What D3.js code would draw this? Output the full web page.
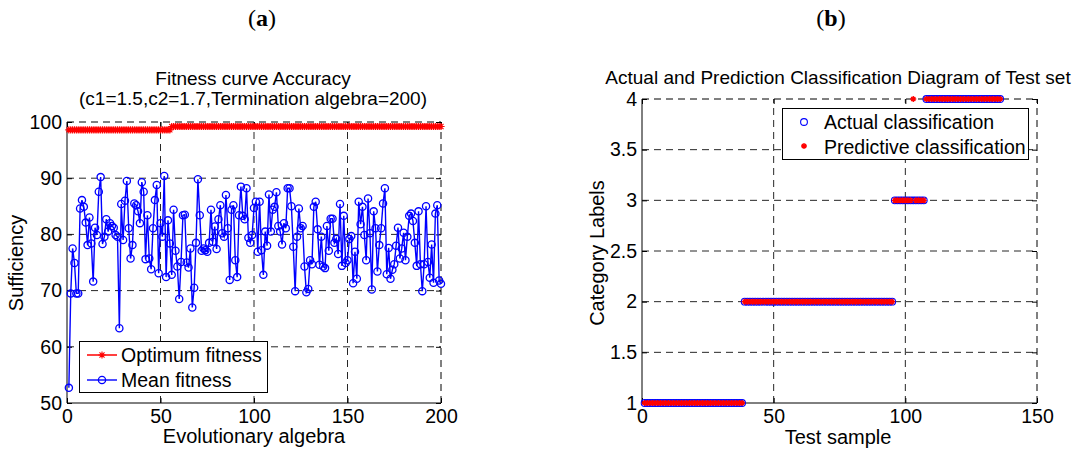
<!DOCTYPE html>
<html><head><meta charset="utf-8">
<script src="https://cdn.jsdelivr.net/npm/d3@7"></script>
<style>
body{margin:0;background:#fff;}
text{font-family:"Liberation Sans",Arial,sans-serif;fill:#000;}
</style></head>
<body><svg id="c" width="1088" height="453"></svg>
<script>
// ---- data ----
const generations = d3.range(1, 201);
const optimumFitness = generations.map(g => g <= 55 ? 98.6 : 99.2);
const meanFitness = [
52.7,69.5,77.5,74.9,69.5,69.5,84.6,86.1,84.9,82.1,
78.1,83.0,78.4,71.6,81.2,79.9,87.6,90.2,78.3,79.6,
82.7,80.5,82.0,81.5,81.2,79.9,79.6,63.3,85.4,79.0,
86.0,89.5,81.1,75.7,78.1,85.5,85.2,84.1,82.0,89.3,
87.6,75.6,83.4,75.7,73.8,81.1,86.1,88.8,73.1,82.0,
79.6,90.4,72.4,82.5,78.4,72.8,84.4,77.1,74.3,68.5,
75.1,83.4,83.5,75.0,74.1,77.5,67.0,70.5,78.5,89.8,
83.4,77.1,77.5,77.2,76.9,78.5,84.4,78.7,81.4,77.4,
82.7,85.2,80.2,79.6,87.0,81.1,71.9,84.4,85.2,75.4,
72.4,83.4,88.5,83.3,82.7,88.2,79.4,78.5,79.9,84.7,
85.8,76.9,85.8,77.2,72.8,80.5,78.0,87.1,80.5,84.4,
84.9,87.5,81.5,80.5,78.2,82.0,81.1,88.2,88.2,85.0,
77.8,69.9,79.6,84.6,81.1,81.5,74.3,69.7,70.3,75.4,
74.7,84.9,85.8,80.9,74.6,79.6,74.3,74.0,81.5,77.1,
82.8,82.8,78.5,79.2,76.5,85.4,74.4,83.3,74.9,75.4,
79.2,79.7,71.3,76.9,72.1,85.8,81.8,84.9,79.9,75.4,
86.4,80.2,70.2,84.1,81.1,73.4,78.1,81.1,85.5,88.2,
72.9,77.6,72.1,73.7,74.7,78.0,81.2,75.7,77.5,80.3,
75.4,79.6,83.3,83.7,82.4,78.5,74.4,84.1,74.7,69.9,
74.7,85.0,75.1,72.3,78.2,71.4,83.7,85.2,71.8,71.2];

// test set: class run lengths (1..4)
const classRuns = [[1,38],[2,57],[3,12],[4,29]];
const actualClass = classRuns.flatMap(([c,n]) => Array(n).fill(c));
const testSamples = actualClass.map((_, i) => i + 1);
const misclassified = [[103, 4]]; // sample, predicted class
const predictedClass = actualClass.map((c, i) => {
  const m = misclassified.find(d => d[0] === i + 1);
  return m ? m[1] : c;
});

const leftXTicks = [0,50,100,150,200];
const leftYTicks = [50,60,70,80,90,100];
const rightXTicks = [0,50,100,150];
const rightYTicks = [1,1.5,2,2.5,3,3.5,4];

// ---- drawing ----
const svg = d3.select("#c");
const font = '"Liberation Sans",Arial,sans-serif';

function star(g, x, y, s, color, w) {
  const p = d3.path();
  p.moveTo(x - s, y); p.lineTo(x + s, y);
  p.moveTo(x, y - s); p.lineTo(x, y + s);
  const d = s * 0.7;
  p.moveTo(x - d, y - d); p.lineTo(x + d, y + d);
  p.moveTo(x - d, y + d); p.lineTo(x + d, y - d);
  g.append("path").attr("d", p.toString()).attr("stroke", color).attr("stroke-width", w).attr("fill", "none");
}

function frame(x, y, xt, yt) {
  const g = svg.append("g");
  const [x0, x1] = x.range(), [y0, y1] = y.range();
  g.selectAll(".gx").data(xt.filter(t => t !== x.domain()[0] && t !== x.domain()[1])).join("line")
    .attr("x1", d => x(d)).attr("x2", d => x(d)).attr("y1", y0).attr("y2", y1)
    .attr("stroke", "#262626").attr("stroke-width", 1).attr("stroke-dasharray", "7,5");
  g.selectAll(".gy").data(yt.filter(t => t !== y.domain()[0] && t !== y.domain()[1])).join("line")
    .attr("y1", d => y(d)).attr("y2", d => y(d)).attr("x1", x0).attr("x2", x1)
    .attr("stroke", "#262626").attr("stroke-width", 1).attr("stroke-dasharray", "7,5");
  const ax = svg.append("g");
  ax.append("g").attr("transform", `translate(0,${y0})`)
    .call(d3.axisBottom(x).tickValues(xt).tickSize(-5).tickPadding(6).tickFormat(d3.format("")));
  ax.append("g").attr("transform", `translate(${x0},0)`)
    .call(d3.axisLeft(y).tickValues(yt).tickSize(-5).tickPadding(5).tickFormat(d3.format("")));
  ax.append("g").attr("transform", `translate(0,${y1})`)
    .call(d3.axisTop(x).tickValues(xt).tickSize(-5).tickFormat(""));
  ax.append("g").attr("transform", `translate(${x1},0)`)
    .call(d3.axisRight(y).tickValues(yt).tickSize(-5).tickFormat(""));
  ax.selectAll(".domain").remove();
  ax.selectAll(".tick line").attr("stroke", "#000");
  ax.selectAll("text").style("font-family", font).style("font-size", "19.5px").attr("fill", "#000");
  svg.append("line").attr("x1", x0).attr("x2", x1).attr("y1", y1).attr("y2", y1)
    .attr("stroke", "#000").attr("stroke-dasharray", "7,5");
  svg.append("line").attr("x1", x1).attr("x2", x1).attr("y1", y0).attr("y2", y1)
    .attr("stroke", "#000").attr("stroke-dasharray", "7,5");
  svg.append("line").attr("x1", x0).attr("x2", x1).attr("y1", y0).attr("y2", y0).attr("stroke", "#000");
  svg.append("line").attr("x1", x0).attr("x2", x0).attr("y1", y0).attr("y2", y1).attr("stroke", "#000");
  return g;
}

// ---------- Left chart ----------
const xL = d3.scaleLinear().domain([0, 200]).range([67, 441]);
const yL = d3.scaleLinear().domain([50, 100]).range([403, 122]);
frame(xL, yL, leftXTicks, leftYTicks);
const gl = svg.append("g");
gl.append("path").datum(generations)
  .attr("d", d3.line().x(g => xL(g)).y((g, i) => yL(optimumFitness[i])))
  .attr("fill", "none").attr("stroke", "#ff0000").attr("stroke-width", 1.5);
generations.forEach((g, i) => star(gl, xL(g), yL(optimumFitness[i]), 3.6, "#ff0000", 1.1));
gl.append("path").datum(generations)
  .attr("d", d3.line().x(g => xL(g)).y((g, i) => yL(meanFitness[i])))
  .attr("fill", "none").attr("stroke", "#0000ff").attr("stroke-width", 1.4);
gl.selectAll("circle").data(generations).join("circle")
  .attr("cx", g => xL(g)).attr("cy", (g, i) => yL(meanFitness[i])).attr("r", 3.6)
  .attr("fill", "none").attr("stroke", "#0000ff").attr("stroke-width", 1.3);

// legend left
const lg = svg.append("g");
lg.append("rect").attr("x", 79.5).attr("y", 341.5).attr("width", 188).attr("height", 51)
  .attr("fill", "#fff").attr("stroke", "#000").attr("stroke-width", 1);
lg.append("line").attr("x1", 87).attr("x2", 117).attr("y1", 355).attr("y2", 355).attr("stroke", "#ff0000").attr("stroke-width", 1.5);
star(lg, 102, 355, 3.6, "#ff0000", 1.1);
lg.append("line").attr("x1", 87).attr("x2", 117).attr("y1", 380).attr("y2", 380).attr("stroke", "#0000ff").attr("stroke-width", 1.4);
lg.append("circle").attr("cx", 102).attr("cy", 380).attr("r", 3.6).attr("fill", "none").attr("stroke", "#0000ff").attr("stroke-width", 1.3);
lg.append("text").attr("x", 121).attr("y", 362).style("font-size", "19.5px").text("Optimum fitness");
lg.append("text").attr("x", 121).attr("y", 387).style("font-size", "19.5px").text("Mean fitness");

// titles and labels left
svg.append("text").attr("x", 253).attr("y", 85).attr("text-anchor", "middle").style("font-size", "19px").text("Fitness curve Accuracy");
svg.append("text").attr("x", 253).attr("y", 105).attr("text-anchor", "middle").style("font-size", "19px").text("(c1=1.5,c2=1.7,Termination algebra=200)");
svg.append("text").attr("x", 254).attr("y", 443).attr("text-anchor", "middle").style("font-size", "20px").text("Evolutionary algebra");
svg.append("text").attr("transform", "translate(23,263) rotate(-90)").attr("text-anchor", "middle").style("font-size", "20px").text("Sufficiency");

// ---------- Right chart ----------
const xR = d3.scaleLinear().domain([0, 150]).range([642, 1037]);
const yR = d3.scaleLinear().domain([1, 4]).range([403, 99]);
frame(xR, yR, rightXTicks, rightYTicks);
const gr = svg.append("g");
gr.selectAll("circle").data(testSamples).join("circle")
  .attr("cx", s => xR(s)).attr("cy", (s, i) => yR(actualClass[i])).attr("r", 3.4)
  .attr("fill", "none").attr("stroke", "#0000ff").attr("stroke-width", 1.1);
testSamples.forEach((s, i) => star(gr, xR(s), yR(predictedClass[i]), 3, "#ff0000", 1.4));

// legend right
const rg = svg.append("g");
rg.append("rect").attr("x", 782.5).attr("y", 108.5).attr("width", 246).attr("height", 51)
  .attr("fill", "#fff").attr("stroke", "#000").attr("stroke-width", 1);
rg.append("circle").attr("cx", 804).attr("cy", 122).attr("r", 3.4).attr("fill", "none").attr("stroke", "#0000ff").attr("stroke-width", 1.1);
star(rg, 804, 146, 3, "#ff0000", 1.4);
rg.append("text").attr("x", 824).attr("y", 129).style("font-size", "19.5px").text("Actual classification");
rg.append("text").attr("x", 824).attr("y", 154).style("font-size", "19.5px").text("Predictive classification");

svg.append("text").attr("x", 838).attr("y", 84).attr("text-anchor", "middle").style("font-size", "19px").text("Actual and Prediction Classification Diagram of Test set");
svg.append("text").attr("x", 838).attr("y", 444).attr("text-anchor", "middle").style("font-size", "20px").text("Test sample");
svg.append("text").attr("transform", "translate(604,253) rotate(-90)").attr("text-anchor", "middle").style("font-size", "20px").text("Category Labels");

// panel labels
svg.append("text").attr("x", 262).attr("y", 26).attr("text-anchor", "middle")
  .style("font-family", '"Liberation Serif","Times New Roman",serif').style("font-size", "24px").html('(<tspan font-weight="bold">a</tspan>)');
svg.append("text").attr("x", 831).attr("y", 26).attr("text-anchor", "middle")
  .style("font-family", '"Liberation Serif","Times New Roman",serif').style("font-size", "24px").html('(<tspan font-weight="bold">b</tspan>)');
</script></body></html>
